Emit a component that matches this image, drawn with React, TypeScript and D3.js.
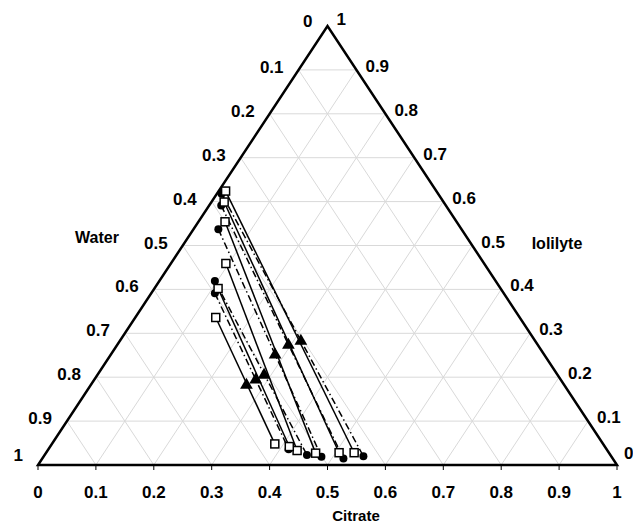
import React from "react";
import * as d3 from "d3";

// mass fractions: [citrate, iolilyte]; water = 1 - both
const expTop = [
  [0.012, 0.624],
  [0.022, 0.599],
  [0.046, 0.554],
  [0.095, 0.459],
  [0.11, 0.402],
  [0.139, 0.336],
];
const expBottom = [
  [0.532, 0.028],
  [0.506, 0.028],
  [0.466, 0.027],
  [0.431, 0.033],
  [0.413, 0.042],
  [0.385, 0.048],
];
const calcTop = [
  [0.008, 0.618],
  [0.021, 0.591],
  [0.043, 0.537],
  [0.096, 0.419],
  [0.11, 0.391],
];
const calcBottom = [
  [0.552, 0.02],
  [0.52, 0.015],
  [0.48, 0.019],
  [0.453, 0.023],
  [0.415, 0.036],
];
const feed = [
  [0.313, 0.282],
  [0.296, 0.273],
  [0.284, 0.251],
  [0.288, 0.205],
  [0.279, 0.194],
  [0.269, 0.182],
];

const tickValues = [0, 0.1, 0.2, 0.3, 0.4, 0.5, 0.6, 0.7, 0.8, 0.9, 1];
const tickLabels = ["0", "0.1", "0.2", "0.3", "0.4", "0.5", "0.6", "0.7", "0.8", "0.9", "1"];

const W = 633;
const H = 523;
const font = "'Liberation Sans', Arial, sans-serif";

export default function App() {
  const xs = d3.scaleLinear().domain([0, 1]).range([38, 617]);
  const ys = d3.scaleLinear().domain([0, 1]).range([465, 26]);
  // citrate c, iolilyte i -> screen
  const px = (c, i) => xs(c + i / 2);
  const py = (c, i) => ys(i);
  const pt = (d) => [px(d[0], d[1]), py(d[0], d[1])];

  const grid = [];
  tickValues.slice(1, -1).forEach((v) => {
    grid.push([pt([0, v]), pt([1 - v, v])]);
    grid.push([pt([v, 0]), pt([v, 1 - v])]);
    grid.push([pt([1 - v, 0]), pt([0, 1 - v])]);
  });

  const lineGen = d3.line();
  const tri = d3.symbol().type(d3.symbolTriangle).size(70)();

  return (
    <svg
      width={W}
      height={H}
      style={{ position: "absolute", left: 0, top: 0, background: "#fff" }}
    >
      <g>
        {grid.map((g, k) => (
          <line
            key={k}
            x1={g[0][0]}
            y1={g[0][1]}
            x2={g[1][0]}
            y2={g[1][1]}
            stroke="#d9d9d9"
            strokeWidth={1}
          />
        ))}
      </g>
      <path
        d={lineGen([pt([0, 0]), pt([1, 0]), pt([0, 1])]) + "Z"}
        fill="none"
        stroke="#000"
        strokeWidth={2.5}
        strokeLinejoin="miter"
      />
      {tickValues.map((v, k) => (
        <line key={k} x1={xs(v)} x2={xs(v)} y1={465} y2={470} stroke="#000" strokeWidth={1} />
      ))}

      {/* calculated tie lines */}
      {calcTop.map((d, k) => (
        <path
          key={"c" + k}
          d={lineGen([pt(d), pt(calcBottom[k])])}
          stroke="#000"
          strokeWidth={1.5}
          strokeDasharray="7 3 1.5 3"
          fill="none"
        />
      ))}
      {/* experimental tie lines */}
      {expTop.map((d, k) => (
        <path
          key={"e" + k}
          d={lineGen([pt(d), pt(expBottom[k])])}
          stroke="#000"
          strokeWidth={1.5}
          fill="none"
        />
      ))}
      {calcTop.concat(calcBottom).map((d, k) => (
        <circle key={"cc" + k} cx={pt(d)[0]} cy={pt(d)[1]} r={4} fill="#000" />
      ))}
      {expTop.concat(expBottom).map((d, k) => (
        <rect
          key={"sq" + k}
          x={pt(d)[0] - 4}
          y={pt(d)[1] - 4}
          width={8}
          height={8}
          fill="#fff"
          stroke="#000"
          strokeWidth={1.5}
        />
      ))}
      {feed.map((d, k) => (
        <path key={"t" + k} d={tri} transform={`translate(${pt(d)[0]},${pt(d)[1]})`} fill="#000" />
      ))}

      <g fontFamily={font} fontWeight="bold" fontSize={17} fill="#000">
        {tickValues.map((v, k) => (
          <text key={"b" + k} x={xs(v)} y={498} textAnchor="middle">
            {tickLabels[k]}
          </text>
        ))}
        {tickValues.map((v, k) => (
          <text
            key={"l" + k}
            x={px(0, 1 - v) - 15}
            y={py(0, 1 - v) + (v === 1 ? -4 : v === 0 ? 1 : 3)}
            textAnchor="end"
          >
            {tickLabels[k]}
          </text>
        ))}
        {tickValues.map((v, k) => (
          <text
            key={"r" + k}
            x={px(1 - v, v) + (v === 0 ? 7 : 9)}
            y={py(1 - v, v) + (v === 0 ? -6 : v === 1 ? -1 : 2)}
            textAnchor="start"
          >
            {tickLabels[k]}
          </text>
        ))}
        <text x={356} y={521} textAnchor="middle" fontSize={15}>
          Citrate
        </text>
        <text x={97} y={243} textAnchor="middle" fontSize={16}>
          Water
        </text>
        <text x={557} y={249} textAnchor="middle" fontSize={16}>
          Iolilyte
        </text>
      </g>
    </svg>
  );
}
